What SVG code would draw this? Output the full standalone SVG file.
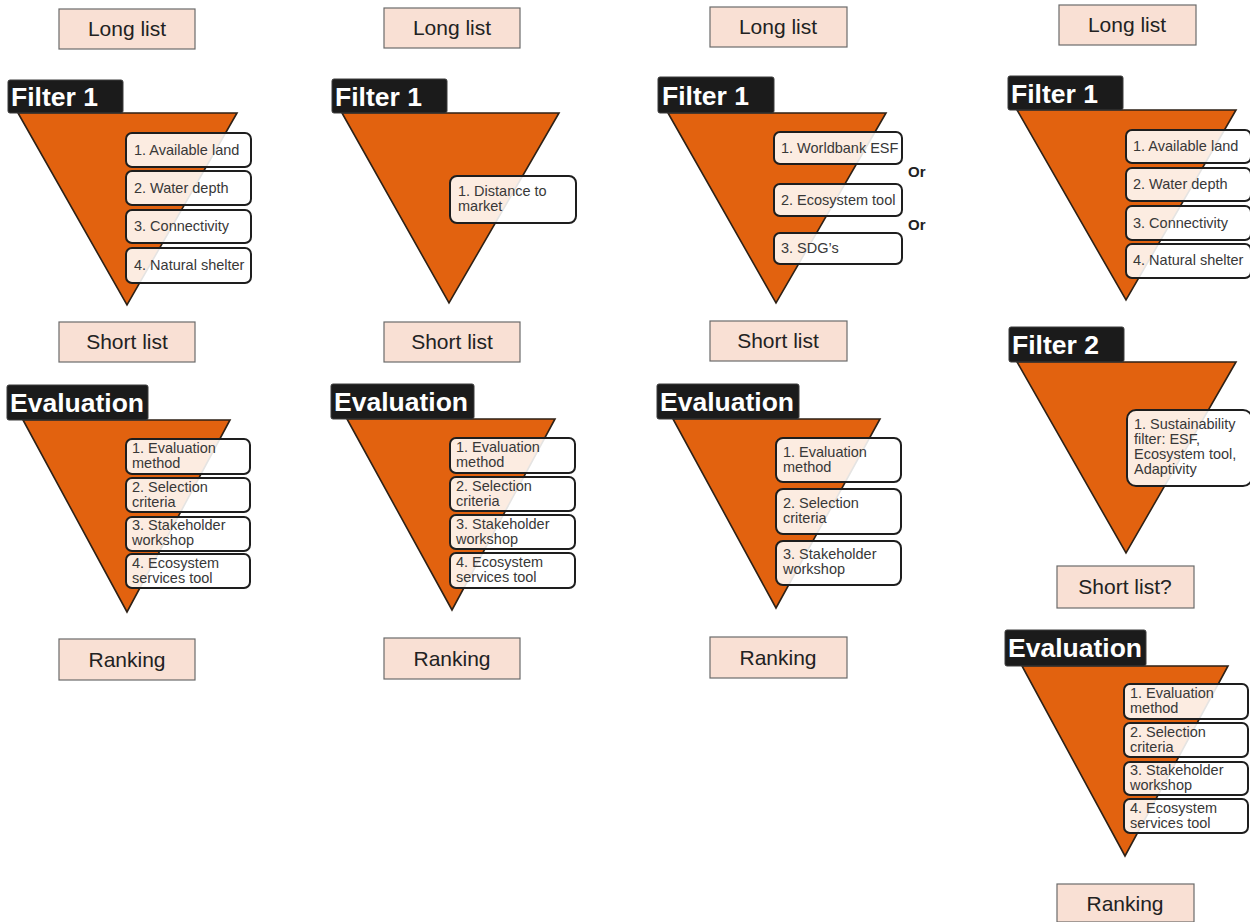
<svg xmlns="http://www.w3.org/2000/svg" width="1250" height="922" viewBox="0 0 1250 922">
  <style>
    text { font-family: "Liberation Sans", Arial, sans-serif; }
    .stage { fill: #f9e0d4; stroke: #6b6b6b; stroke-width: 1.2; }
    .stage-t { font-size: 21px; fill: #222; text-anchor: middle; }
    .funnel { fill: #e2620f; stroke: #2e2116; stroke-width: 1.6; stroke-linejoin: miter; }
    .head { fill: #1b1b1b; stroke: #3c3c3c; stroke-width: 1; }
    .head-t { font-size: 26.5px; font-weight: bold; fill: #fff; }
    .item { fill: #ffffff; fill-opacity: 0.88; stroke: #1e1e1e; stroke-width: 2; }
    .item-t { font-size: 14.5px; fill: #383838; }
    .or { font-size: 15px; font-weight: bold; fill: #222; }
  </style>

  <!-- ===== Column 1 ===== -->
  <g id="c1-longlist">
    <rect class="stage" x="59" y="9" width="136" height="40"/>
    <text class="stage-t" x="127" y="36">Long list</text>
  </g>
  <g id="c1-filter1">
    <polygon class="funnel" points="18,113 237,113 127,305"/>
    <rect class="head" x="8" y="80" width="115" height="33" rx="2"/>
    <text class="head-t" x="11" y="106">Filter 1</text>
    <rect class="item" x="126" y="133" width="125" height="34" rx="6"/>
    <text class="item-t" x="134" y="155">1. Available land</text>
    <rect class="item" x="126" y="171" width="125" height="34" rx="6"/>
    <text class="item-t" x="134" y="193">2. Water depth</text>
    <rect class="item" x="126" y="210" width="125" height="33" rx="6"/>
    <text class="item-t" x="134" y="231">3. Connectivity</text>
    <rect class="item" x="126" y="248" width="125" height="35" rx="6"/>
    <text class="item-t" x="134" y="270">4. Natural shelter</text>
  </g>
  <g id="c1-shortlist">
    <rect class="stage" x="59" y="322" width="136" height="40"/>
    <text class="stage-t" x="127" y="349">Short list</text>
  </g>
  <g id="c1-evaluation">
    <polygon class="funnel" points="23,420 230,420 127,612"/>
    <rect class="head" x="7" y="385" width="141" height="35" rx="2"/>
    <text class="head-t" x="10" y="412">Evaluation</text>
    <rect class="item" x="126" y="439" width="124" height="35" rx="6"/>
    <text class="item-t" x="132" y="453">1. Evaluation</text>
    <text class="item-t" x="132" y="468">method</text>
    <rect class="item" x="126" y="478" width="124" height="34" rx="6"/>
    <text class="item-t" x="132" y="492">2. Selection</text>
    <text class="item-t" x="132" y="507">criteria</text>
    <rect class="item" x="126" y="517" width="124" height="34" rx="6"/>
    <text class="item-t" x="132" y="530">3. Stakeholder</text>
    <text class="item-t" x="132" y="545">workshop</text>
    <rect class="item" x="126" y="554" width="124" height="34" rx="6"/>
    <text class="item-t" x="132" y="568">4. Ecosystem</text>
    <text class="item-t" x="132" y="583">services tool</text>
  </g>
  <g id="c1-ranking">
    <rect class="stage" x="59" y="639" width="136" height="41"/>
    <text class="stage-t" x="127" y="667">Ranking</text>
  </g>

  <!-- ===== Column 2 ===== -->
  <g id="c2-longlist">
    <rect class="stage" x="384" y="8" width="136" height="40"/>
    <text class="stage-t" x="452" y="35">Long list</text>
  </g>
  <g id="c2-filter1">
    <polygon class="funnel" points="342,113 559,113 449,303"/>
    <rect class="head" x="332" y="79" width="115" height="34" rx="2"/>
    <text class="head-t" x="335" y="106">Filter 1</text>
    <rect class="item" x="450" y="176" width="126" height="47" rx="7"/>
    <text class="item-t" x="458" y="196">1. Distance to</text>
    <text class="item-t" x="458" y="211">market</text>
  </g>
  <g id="c2-shortlist">
    <rect class="stage" x="384" y="322" width="136" height="40"/>
    <text class="stage-t" x="452" y="349">Short list</text>
  </g>
  <g id="c2-evaluation">
    <polygon class="funnel" points="347,419 555,419 452,610"/>
    <rect class="head" x="331" y="384" width="143" height="35" rx="2"/>
    <text class="head-t" x="334" y="411">Evaluation</text>
    <rect class="item" x="450" y="438" width="125" height="35" rx="6"/>
    <text class="item-t" x="456" y="452">1. Evaluation</text>
    <text class="item-t" x="456" y="467">method</text>
    <rect class="item" x="450" y="477" width="125" height="34" rx="6"/>
    <text class="item-t" x="456" y="491">2. Selection</text>
    <text class="item-t" x="456" y="506">criteria</text>
    <rect class="item" x="450" y="515" width="125" height="34" rx="6"/>
    <text class="item-t" x="456" y="529">3. Stakeholder</text>
    <text class="item-t" x="456" y="544">workshop</text>
    <rect class="item" x="450" y="553" width="125" height="35" rx="6"/>
    <text class="item-t" x="456" y="567">4. Ecosystem</text>
    <text class="item-t" x="456" y="582">services tool</text>
  </g>
  <g id="c2-ranking">
    <rect class="stage" x="384" y="638" width="136" height="41"/>
    <text class="stage-t" x="452" y="666">Ranking</text>
  </g>

  <!-- ===== Column 3 ===== -->
  <g id="c3-longlist">
    <rect class="stage" x="710" y="7" width="137" height="40"/>
    <text class="stage-t" x="778" y="34">Long list</text>
  </g>
  <g id="c3-filter1">
    <polygon class="funnel" points="668,113 886,113 776,303"/>
    <rect class="head" x="658" y="77" width="116" height="36" rx="2"/>
    <text class="head-t" x="662" y="105">Filter 1</text>
    <rect class="item" x="774" y="132" width="128" height="32" rx="6"/>
    <text class="item-t" x="781" y="153">1. Worldbank ESF</text>
    <rect class="item" x="774" y="184" width="128" height="32" rx="6"/>
    <text class="item-t" x="781" y="205">2. Ecosystem tool</text>
    <rect class="item" x="774" y="233" width="128" height="31" rx="6"/>
    <text class="item-t" x="781" y="253">3. SDG’s</text>
    <text class="or" x="908" y="177">Or</text>
    <text class="or" x="908" y="230">Or</text>
  </g>
  <g id="c3-shortlist">
    <rect class="stage" x="710" y="321" width="137" height="40"/>
    <text class="stage-t" x="778" y="348">Short list</text>
  </g>
  <g id="c3-evaluation">
    <polygon class="funnel" points="673,419 880,419 776,608"/>
    <rect class="head" x="657" y="384" width="142" height="35" rx="2"/>
    <text class="head-t" x="660" y="411">Evaluation</text>
    <rect class="item" x="776" y="438" width="125" height="44" rx="7"/>
    <text class="item-t" x="783" y="457">1. Evaluation</text>
    <text class="item-t" x="783" y="472">method</text>
    <rect class="item" x="776" y="489" width="125" height="45" rx="7"/>
    <text class="item-t" x="783" y="508">2. Selection</text>
    <text class="item-t" x="783" y="523">criteria</text>
    <rect class="item" x="776" y="541" width="125" height="44" rx="7"/>
    <text class="item-t" x="783" y="559">3. Stakeholder</text>
    <text class="item-t" x="783" y="574">workshop</text>
  </g>
  <g id="c3-ranking">
    <rect class="stage" x="710" y="637" width="137" height="41"/>
    <text class="stage-t" x="778" y="665">Ranking</text>
  </g>

  <!-- ===== Column 4 ===== -->
  <g id="c4-longlist">
    <rect class="stage" x="1059" y="5" width="137" height="40"/>
    <text class="stage-t" x="1127" y="32">Long list</text>
  </g>
  <g id="c4-filter1">
    <polygon class="funnel" points="1017,110 1236,110 1126,300"/>
    <rect class="head" x="1008" y="76" width="115" height="34" rx="2"/>
    <text class="head-t" x="1011" y="103">Filter 1</text>
    <rect class="item" x="1126" y="130" width="125" height="33" rx="6"/>
    <text class="item-t" x="1133" y="151">1. Available land</text>
    <rect class="item" x="1126" y="168" width="125" height="33" rx="6"/>
    <text class="item-t" x="1133" y="189">2. Water depth</text>
    <rect class="item" x="1126" y="206" width="125" height="34" rx="6"/>
    <text class="item-t" x="1133" y="228">3. Connectivity</text>
    <rect class="item" x="1126" y="244" width="125" height="34" rx="6"/>
    <text class="item-t" x="1133" y="265">4. Natural shelter</text>
  </g>
  <g id="c4-filter2">
    <polygon class="funnel" points="1017,362 1236,362 1126,553"/>
    <rect class="head" x="1009" y="327" width="115" height="35" rx="2"/>
    <text class="head-t" x="1012" y="354">Filter 2</text>
    <rect class="item" x="1127" y="410" width="125" height="76" rx="9"/>
    <text class="item-t" x="1134" y="429">1. Sustainability</text>
    <text class="item-t" x="1134" y="444">filter: ESF,</text>
    <text class="item-t" x="1134" y="459">Ecosystem tool,</text>
    <text class="item-t" x="1134" y="474">Adaptivity</text>
  </g>
  <g id="c4-shortlist">
    <rect class="stage" x="1057" y="566" width="137" height="42"/>
    <text class="stage-t" x="1125" y="594">Short list?</text>
  </g>
  <g id="c4-evaluation">
    <polygon class="funnel" points="1022,666 1228,666 1125,856"/>
    <rect class="head" x="1005" y="630" width="141" height="36" rx="2"/>
    <text class="head-t" x="1008" y="657">Evaluation</text>
    <rect class="item" x="1124" y="684" width="124" height="35" rx="6"/>
    <text class="item-t" x="1130" y="698">1. Evaluation</text>
    <text class="item-t" x="1130" y="713">method</text>
    <rect class="item" x="1124" y="723" width="124" height="34" rx="6"/>
    <text class="item-t" x="1130" y="737">2. Selection</text>
    <text class="item-t" x="1130" y="752">criteria</text>
    <rect class="item" x="1124" y="762" width="124" height="33" rx="6"/>
    <text class="item-t" x="1130" y="775">3. Stakeholder</text>
    <text class="item-t" x="1130" y="790">workshop</text>
    <rect class="item" x="1124" y="799" width="124" height="34" rx="6"/>
    <text class="item-t" x="1130" y="813">4. Ecosystem</text>
    <text class="item-t" x="1130" y="828">services tool</text>
  </g>
  <g id="c4-ranking">
    <rect class="stage" x="1057" y="884" width="137" height="38"/>
    <text class="stage-t" x="1125" y="911">Ranking</text>
  </g>

  <!-- no connectors: the stages are stacked without linking lines -->
  <g id="connectors"/>
</svg>
